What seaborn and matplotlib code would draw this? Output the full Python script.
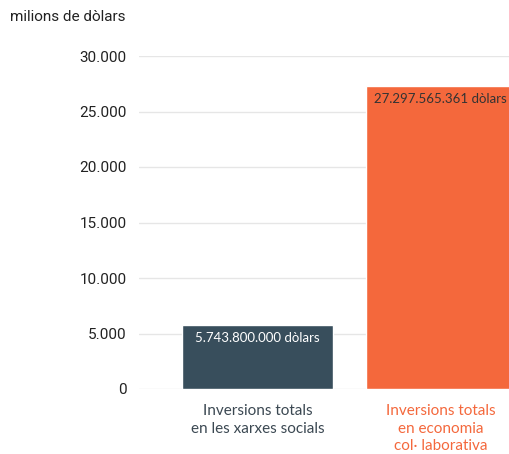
import matplotlib
matplotlib.use("Agg")
import matplotlib.pyplot as plt
import seaborn as sns
import pandas as pd

categories = ["Inversions totals\nen les xarxes socials", "Inversions totals\nen economia\ncol\u00b7 laborativa"]
values_millions = [5743.8, 27297.565361]
value_labels = ["5.743.800.000 dòlars", "27.297.565.361 dòlars"]
ytick_values = [0, 5000, 10000, 15000, 20000, 25000, 30000]
ytick_labels = ["0", "5.000", "10.000", "15.000", "20.000", "25.000", "30.000"]
bar_colors = ["#384e5c", "#f4683c"]
label_colors = ["#3b4852", "#f4683c"]

sns.set_theme(style="white")
plt.rcParams['font.family'] = ['Lato', 'DejaVu Sans']

df = pd.DataFrame({"cat": categories, "val": values_millions})

fig = plt.figure(figsize=(5.09, 4.54), dpi=100)
ax = fig.add_axes([139/509, 65/454, 1 - 139/509, 333/454])
sns.barplot(data=df, x="cat", y="val", hue="cat", palette=bar_colors,
            width=0.82, legend=False, ax=ax, saturation=1)

ax.set_xlim(-0.645, 1.372)
ax.set_ylim(0, 30000)
ax.set_yticks(ytick_values)
ax.set_yticklabels(ytick_labels, fontfamily="Roboto", fontsize=11, color="#222222")
ax.tick_params(axis="y", length=0, pad=9)
ax.tick_params(axis="x", length=0, pad=11)
for t, c in zip(ax.get_xticklabels(), label_colors):
    t.set_color(c)
    t.set_fontsize(11)
    t.set_linespacing(1.32)
ax.set_xlabel("")
ax.set_ylabel("")
ax.yaxis.grid(True, color="#e6e6e6", linewidth=1)
ax.set_axisbelow(True)
for s in ax.spines.values():
    s.set_visible(False)

text_colors = ["white", "#333333"]
for i, (v, lab) in enumerate(zip(values_millions, value_labels)):
    ax.text(i, v - 600, lab, ha="center", va="top", fontsize=9.5, color=text_colors[i])

fig.text(10/509, 1 - 17/454, "milions de dòlars", ha="left", va="center",
         fontfamily="Roboto", fontsize=11, color="#222222")

fig.savefig("out.png", dpi=100)
